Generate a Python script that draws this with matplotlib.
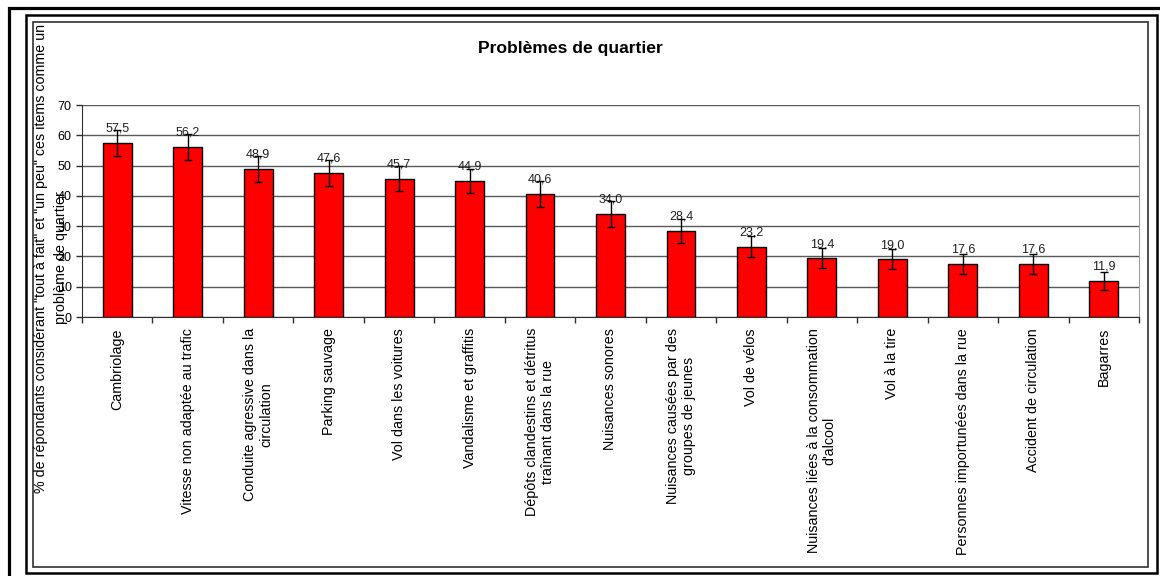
import numpy as np
import matplotlib.pyplot as plt
from matplotlib.patches import Rectangle

plt.rcParams['font.family'] = ['Liberation Sans', 'DejaVu Sans']

categories = [
    "Cambriolage",
    "Vitesse non adaptée au trafic",
    "Conduite agressive dans la\ncirculation",
    "Parking sauvage",
    "Vol dans les voitures",
    "Vandalisme et graffitis",
    "Dépôts clandestins et détritus\ntraînant dans la rue",
    "Nuisances sonores",
    "Nuisances causées par des\ngroupes de jeunes",
    "Vol de vélos",
    "Nuisances liées à la consommation\nd'alcool",
    "Vol à la tire",
    "Personnes importunées dans la rue",
    "Accident de circulation",
    "Bagarres",
]
values = [57.5, 56.2, 48.9, 47.6, 45.7, 44.9, 40.6, 34.0, 28.4, 23.2,
          19.4, 19.0, 17.6, 17.6, 11.9]
errors = [4.3, 4.3, 4.2, 4.3, 4.2, 4.1, 4.2, 4.2, 4.0, 3.4,
          3.3, 3.3, 3.3, 3.3, 3.1]
yticks = [0, 10, 20, 30, 40, 50, 60, 70]

title = "Problèmes de quartier"
ylabel = ('% de répondants considérant "tout à fait" et "un peu" ces items comme un\n'
          'problème de quartier')

W, H = 1160, 576
fig = plt.figure(figsize=(W / 100, H / 100), dpi=100)


def frame(x0, y0, x1, y1, lw, color):
    # rectangle given in image pixels (top-left origin)
    fig.patches.append(Rectangle((x0 / W, 1 - y1 / H), (x1 - x0) / W, (y1 - y0) / H,
                                 transform=fig.transFigure, fill=False,
                                 lw=lw, ec=color))


frame(8.5, 8, 1175, 590, 2.3, 'black')
frame(26, 15, 1157, 573, 1.8, 'black')
frame(33, 22, 1148, 567, 1.2, '#303030')

ax = fig.add_axes([82 / W, 1 - 317 / H, (1139 - 82) / W, (317 - 105) / H])
x = np.arange(len(values))

ax.bar(x, values, width=0.41, color='#ff0000', edgecolor='black', lw=1, zorder=2)
ax.errorbar(x, values, yerr=errors, fmt='none', ecolor='black', elinewidth=1,
            capsize=3, capthick=1, zorder=4)
for xi, v in zip(x, values):
    ax.annotate(f"{v:.1f}".replace('.', ','), (xi, v), xytext=(0, 8),
                textcoords='offset points', ha='center', va='baseline',
                fontsize=9, color='#202020', zorder=3)

ax.set_xlim(-0.5, len(values) - 0.5)
ax.set_ylim(0, 70)
ax.set_yticks(yticks)
ax.grid(axis='y', color='#5a5a5a', lw=1, zorder=0)
ax.set_axisbelow(True)

ax.set_xticks(x)
ax.set_xticklabels(categories, rotation=90, ha='center', va='top',
                   multialignment='center', fontsize=10.3, linespacing=1.15)
ax.set_xticks(np.arange(len(values) + 1) - 0.5, minor=True)
ax.tick_params(axis='x', which='major', length=0, pad=8)
ax.tick_params(axis='x', which='minor', length=4, color='#303030', width=1)
ax.tick_params(axis='y', length=4, color='#303030', width=1, pad=3.5,
               labelsize=9)

ax.spines['top'].set_visible(False)
ax.spines['right'].set_color('#a0a0a0')
ax.spines['left'].set_color('#303030')
ax.spines['bottom'].set_color('#303030')

fig.text(570 / W, 1 - 49 / H, title, ha='center', va='center',
         fontsize=12.6, fontweight='bold')
fig.text(51 / W, 1 - 258 / H, ylabel, rotation=90, ha='center', va='center',
         multialignment='center', fontsize=10.3, linespacing=1.5)

fig.savefig('out.png', dpi=100)
